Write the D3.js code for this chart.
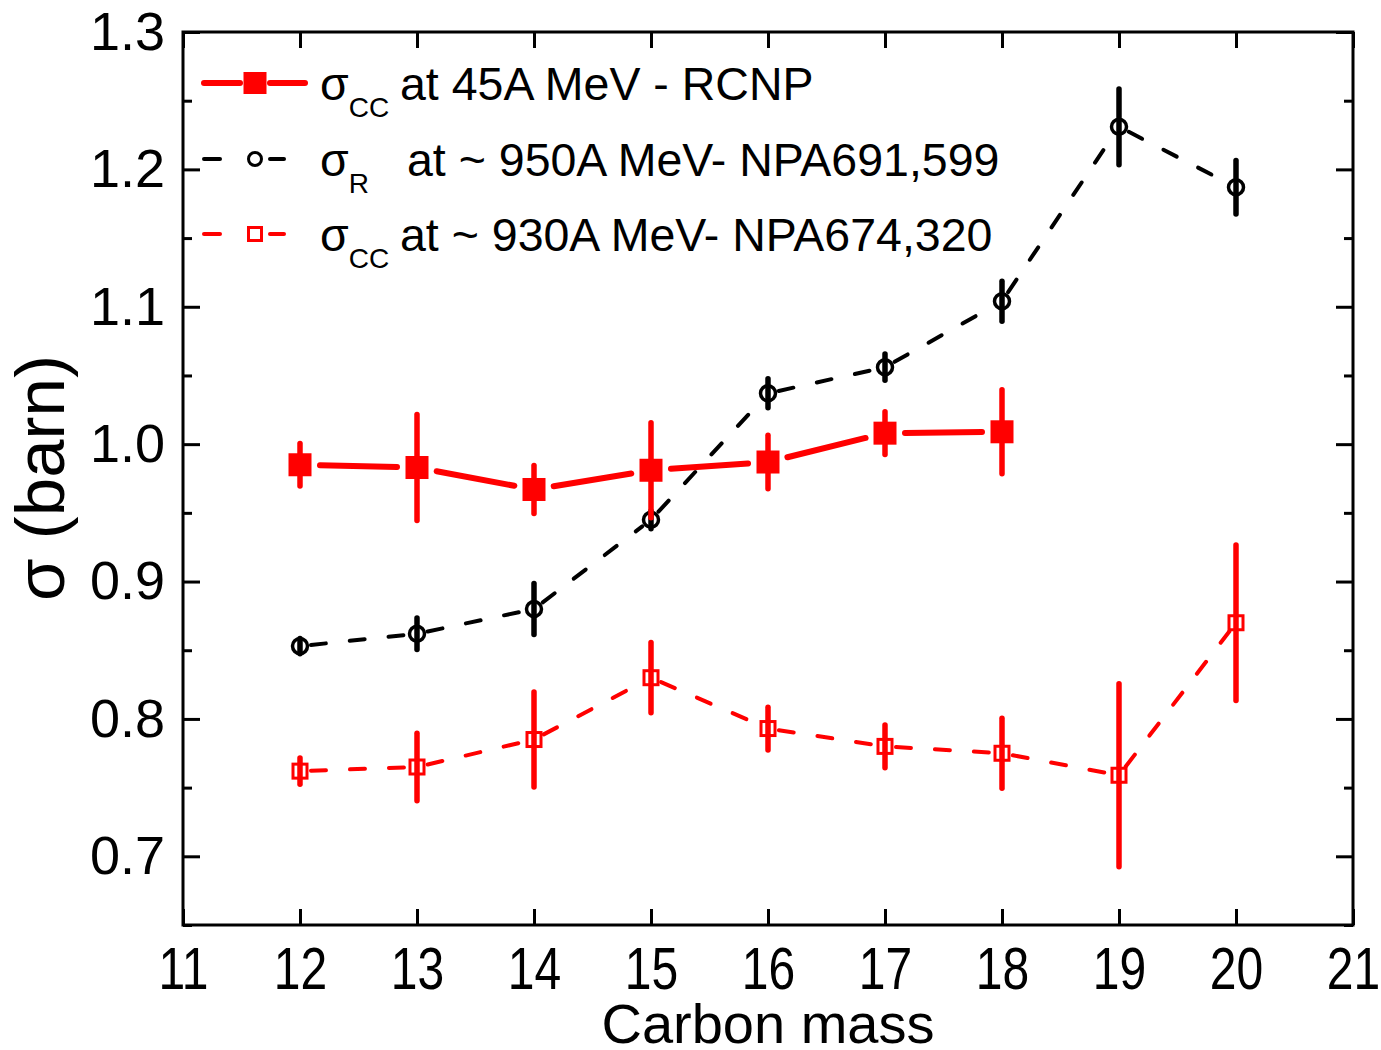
<!DOCTYPE html>
<html>
<head>
<meta charset="utf-8">
<script src="https://cdn.jsdelivr.net/npm/d3@7"></script>
<style>
  body { margin: 0; background: #fff; }
  svg { display: block; font-family: "Liberation Sans", Arial, sans-serif; }
</style>
</head>
<body>
<div id="chart"></div>
<script>
// carbon mass numbers
const massAll = [12, 13, 14, 15, 16, 17, 18, 19, 20];
const massRcnp = [12, 13, 14, 15, 16, 17, 18];

// sigma_CC at 45A MeV - RCNP
const rcnpVal = [0.985, 0.983, 0.967, 0.981, 0.987, 1.008, 1.009];
const rcnpErr = [0.017, 0.040, 0.019, 0.036, 0.021, 0.017, 0.032];

// sigma_R at ~950A MeV - NPA691,599
const sigRVal = [0.853, 0.862, 0.880, 0.945, 1.037, 1.056, 1.104, 1.231, 1.187];
const sigRErr = [0.007, 0.013, 0.020, 0.008, 0.012, 0.011, 0.016, 0.029, 0.021];

// sigma_CC at ~930A MeV - NPA674,320
const npaVal = [0.762, 0.765, 0.785, 0.830, 0.793, 0.780, 0.775, 0.759, 0.870];
const npaErr = [0.011, 0.026, 0.036, 0.027, 0.017, 0.017, 0.027, 0.068, 0.058];

const xTicks = [11, 12, 13, 14, 15, 16, 17, 18, 19, 20, 21];
const yTicks = [0.7, 0.8, 0.9, 1.0, 1.1, 1.2, 1.3];
const yMinor = [0.65, 0.75, 0.85, 0.95, 1.05, 1.15, 1.25];

const W = 1381, H = 1050;
const pLeft = 183, pRight = 1353, pTop = 32, pBottom = 925;

const x = d3.scaleLinear().domain([11, 21]).range([pLeft, pRight]);
const y = d3.scaleLinear().domain([0.65, 1.3]).range([pBottom, pTop]);

const svg = d3.select("#chart").append("svg")
  .attr("width", W).attr("height", H);

const zip = (xs, vs, es) => xs.map((m, i) => ({m, v: vs[i], e: es[i]}));
const rcnp = zip(massRcnp, rcnpVal, rcnpErr);
const sigR = zip(massAll, sigRVal, sigRErr);
const npa = zip(massAll, npaVal, npaErr);

// connecting segments, shortened so they stop short of the markers
function segments(g, data, gap, color, width, dash) {
  for (let i = 0; i < data.length - 1; i++) {
    const x1 = x(data[i].m), y1 = y(data[i].v);
    const x2 = x(data[i + 1].m), y2 = y(data[i + 1].v);
    const d = Math.hypot(x2 - x1, y2 - y1);
    const ux = (x2 - x1) / d, uy = (y2 - y1) / d;
    g.append("line")
      .attr("x1", x1 + ux * gap).attr("y1", y1 + uy * gap)
      .attr("x2", x2 - ux * gap).attr("y2", y2 - uy * gap)
      .attr("stroke", color).attr("stroke-width", width)
      .attr("stroke-linecap", "round")
      .attr("stroke-dasharray", dash || null);
  }
}

function errorBars(g, data, color, width) {
  g.selectAll(".err").data(data).join("line")
    .attr("x1", d => x(d.m)).attr("x2", d => x(d.m))
    .attr("y1", d => y(d.v + d.e) + 2).attr("y2", d => y(d.v - d.e) - 2)
    .attr("stroke", color).attr("stroke-width", width)
    .attr("stroke-linecap", "round");
}

// sigma_R, black dashed with open circles
const gR = svg.append("g");
segments(gR, sigR, 11, "#000", 4, "15,24");
gR.selectAll("circle").data(sigR).join("circle")
  .attr("cx", d => x(d.m)).attr("cy", d => y(d.v)).attr("r", 7.5)
  .attr("fill", "none").attr("stroke", "#000").attr("stroke-width", 3.5);
errorBars(gR, sigR, "#000", 5.5);

// NPA674 sigma_CC, red dashed with open squares
const gN = svg.append("g");
segments(gN, npa, 11, "#ff0000", 4, "15,24");
gN.selectAll("rect").data(npa).join("rect")
  .attr("x", d => x(d.m) - 7).attr("y", d => y(d.v) - 7)
  .attr("width", 14).attr("height", 14)
  .attr("fill", "none").attr("stroke", "#ff0000").attr("stroke-width", 3);
errorBars(gN, npa, "#ff0000", 5.5);

// RCNP, red solid with filled squares
const gC = svg.append("g");
segments(gC, rcnp, 20, "#ff0000", 6);
errorBars(gC, rcnp, "#ff0000", 5.5);
gC.selectAll("rect").data(rcnp).join("rect")
  .attr("x", d => x(d.m) - 11.5).attr("y", d => y(d.v) - 11.5)
  .attr("width", 23).attr("height", 23)
  .attr("fill", "#ff0000");

// frame and ticks
svg.append("rect")
  .attr("x", pLeft).attr("y", pTop)
  .attr("width", pRight - pLeft).attr("height", pBottom - pTop)
  .attr("fill", "none").attr("stroke", "#000").attr("stroke-width", 3);

function styleAxis(g) {
  g.select(".domain").remove();
  g.selectAll(".tick line").attr("stroke", "#000").attr("stroke-width", 3);
}

svg.append("g").attr("transform", `translate(0,${pBottom})`)
  .call(d3.axisBottom(x).tickValues(xTicks).tickSize(-16).tickPadding(0).tickFormat(d3.format("d")))
  .call(styleAxis)
  .call(g => g.selectAll(".tick text")
    .attr("y", 64).attr("dy", 0)
    .attr("font-size", 60).attr("fill", "#000")
    .attr("font-family", "Liberation Sans, Arial, sans-serif")
    .attr("transform", "scale(0.8,1)"));

svg.append("g").attr("transform", `translate(0,${pTop})`)
  .call(d3.axisTop(x).tickValues(xTicks).tickSize(-16).tickFormat(""))
  .call(styleAxis);

svg.append("g").attr("transform", `translate(${pLeft},0)`)
  .call(d3.axisLeft(y).tickValues(yTicks).tickSize(-17).tickPadding(18).tickFormat(d3.format(".1f")))
  .call(styleAxis)
  .call(g => g.selectAll(".tick text")
    .attr("font-size", 54).attr("fill", "#000")
    .attr("font-family", "Liberation Sans, Arial, sans-serif"));

svg.append("g").attr("transform", `translate(${pLeft},0)`)
  .call(d3.axisLeft(y).tickValues(yMinor).tickSize(-9).tickFormat(""))
  .call(styleAxis);

svg.append("g").attr("transform", `translate(${pRight},0)`)
  .call(d3.axisRight(y).tickValues(yTicks).tickSize(-17).tickFormat(""))
  .call(styleAxis);

svg.append("g").attr("transform", `translate(${pRight},0)`)
  .call(d3.axisRight(y).tickValues(yMinor).tickSize(-9).tickFormat(""))
  .call(styleAxis);

// axis titles
svg.append("text")
  .attr("x", (pLeft + pRight) / 2).attr("y", 1043)
  .attr("text-anchor", "middle").attr("font-size", 56)
  .text("Carbon mass");

svg.append("text")
  .attr("transform", "translate(64,478) rotate(-90)")
  .attr("text-anchor", "middle").attr("font-size", 69)
  .text("σ (barn)");

// legend
const legend = [
  {y: 83, color: "#ff0000", kind: "filled", sub: "CC", label: "at 45A MeV - RCNP", tx: 400},
  {y: 159, color: "#000", kind: "circle", sub: "R", label: "at ~ 950A MeV- NPA691,599", tx: 407},
  {y: 234, color: "#ff0000", kind: "open", sub: "CC", label: "at ~ 930A MeV- NPA674,320", tx: 400}
];
const lg = svg.append("g");
legend.forEach(d => {
  const row = lg.append("g");
  const cx = 255;
  if (d.kind === "filled") {
    row.append("line").attr("x1", 204).attr("x2", 240).attr("y1", d.y).attr("y2", d.y)
      .attr("stroke", d.color).attr("stroke-width", 6).attr("stroke-linecap", "round");
    row.append("line").attr("x1", 270).attr("x2", 305).attr("y1", d.y).attr("y2", d.y)
      .attr("stroke", d.color).attr("stroke-width", 6).attr("stroke-linecap", "round");
    row.append("rect").attr("x", cx - 11.5).attr("y", d.y - 11).attr("width", 23).attr("height", 22)
      .attr("fill", d.color);
  } else {
    row.append("line").attr("x1", 204).attr("x2", 220).attr("y1", d.y).attr("y2", d.y)
      .attr("stroke", d.color).attr("stroke-width", 4).attr("stroke-linecap", "round");
    row.append("line").attr("x1", 270).attr("x2", 284).attr("y1", d.y).attr("y2", d.y)
      .attr("stroke", d.color).attr("stroke-width", 4).attr("stroke-linecap", "round");
    if (d.kind === "circle") {
      row.append("circle").attr("cx", cx).attr("cy", d.y).attr("r", 6.5)
        .attr("fill", "none").attr("stroke", d.color).attr("stroke-width", 3);
    } else {
      row.append("rect").attr("x", cx - 6.5).attr("y", d.y - 6.5).attr("width", 13).attr("height", 13)
        .attr("fill", "none").attr("stroke", d.color).attr("stroke-width", 3);
    }
  }
  const t = row.append("text").attr("x", 320).attr("y", d.y + 17).attr("font-size", 46.5);
  t.append("tspan").text("σ");
  t.append("tspan").attr("font-size", 28).attr("dy", 17).text(d.sub);
  t.append("tspan").attr("x", d.tx).attr("dy", -17).text(d.label);
});
</script>
</body>
</html>
